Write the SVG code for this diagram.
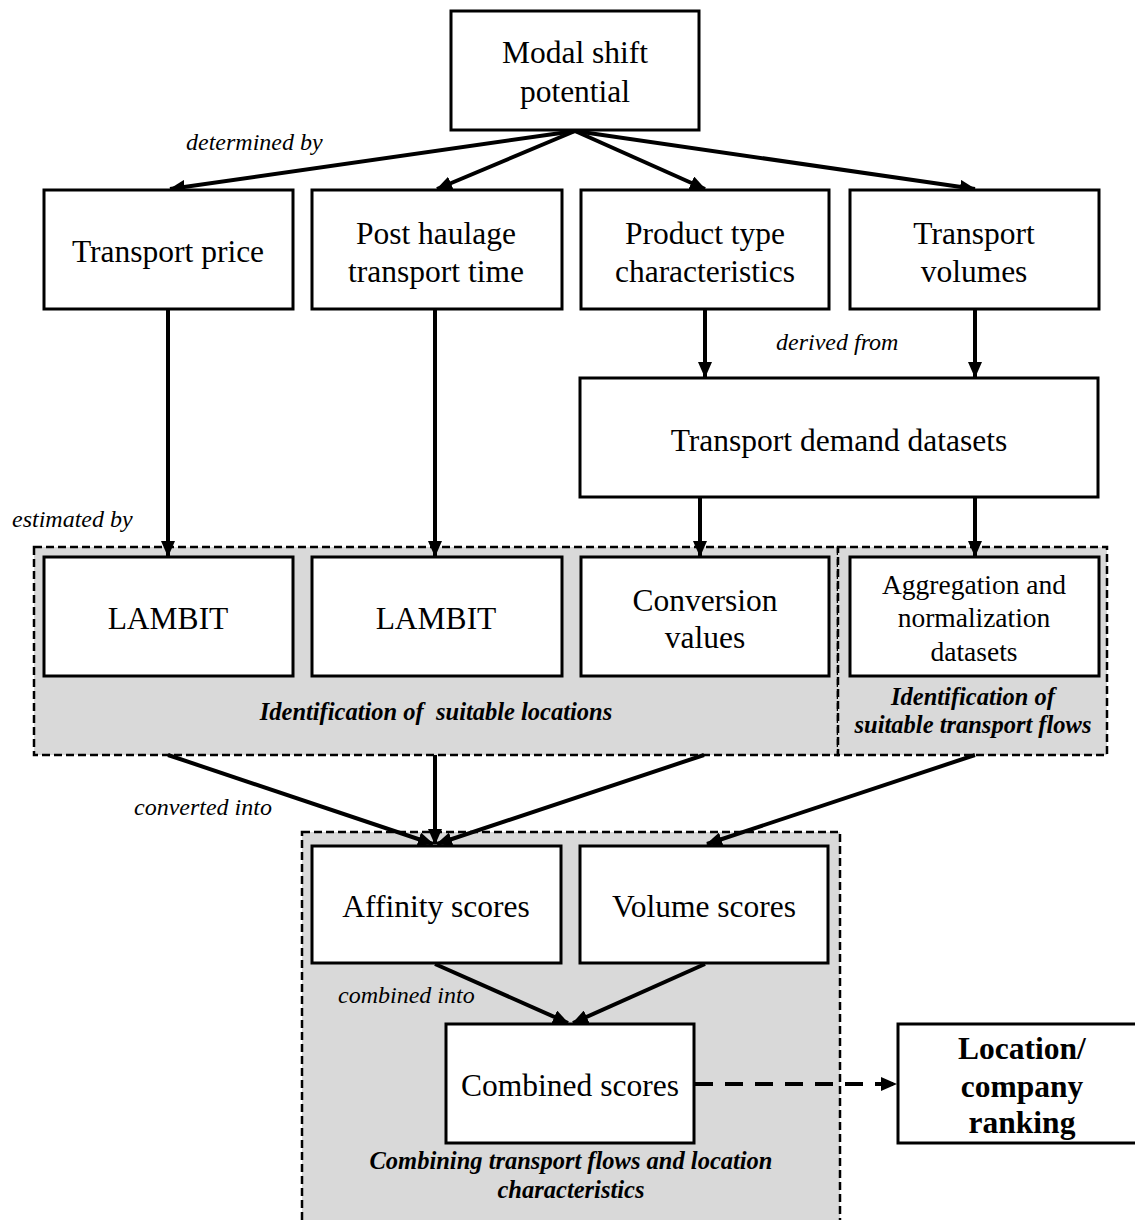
<svg xmlns="http://www.w3.org/2000/svg" width="1135" height="1220" viewBox="0 0 1135 1220">
<style>
.box{fill:#fff;stroke:#000;stroke-width:3}
.grp{fill:#d9d9d9;stroke:#000;stroke-width:2.5;stroke-dasharray:8 4}
.t{font-family:"Liberation Serif","Times New Roman",serif;font-size:31.5px;text-anchor:middle;fill:#000}
.s{font-size:27.5px}
.b{font-weight:bold}
.lab{font-family:"Liberation Serif","Times New Roman",serif;font-size:24px;font-style:italic;fill:#000}
.gl{font-family:"Liberation Serif","Times New Roman",serif;font-size:24.5px;font-style:italic;font-weight:bold;text-anchor:middle;fill:#000;white-space:pre}
.c{stroke:#000;stroke-width:4;fill:none;marker-end:url(#ah)}
</style>
<defs>
<marker id="ah" markerWidth="16" markerHeight="14" refX="15" refY="7" orient="auto" markerUnits="userSpaceOnUse">
<path d="M0,0 L16,7 L0,14 z" fill="#000"/>
</marker>
</defs>
<rect width="1135" height="1220" fill="#fff"/>
<g id="groups">
<rect id="grp-locations" class="grp" x="34" y="547" width="804" height="208"/>
<rect id="grp-flows" class="grp" x="838" y="547" width="269" height="208"/>
<rect id="grp-combining" class="grp" x="302" y="832" width="538" height="400"/>
<text class="gl" x="436" y="720" xml:space="preserve">Identification of  suitable locations</text>
<text class="gl" x="973" y="705">Identification of</text>
<text class="gl" x="973" y="733">suitable transport flows</text>
<text class="gl" x="571" y="1169">Combining transport flows and location</text>
<text class="gl" x="571" y="1198">characteristics</text>
</g>
<g id="connectors">
<line class="c" x1="575" y1="131" x2="170" y2="189"/>
<line class="c" x1="575" y1="131" x2="437" y2="189"/>
<line class="c" x1="575" y1="131" x2="705" y2="189"/>
<line class="c" x1="575" y1="131" x2="975" y2="189"/>
<line class="c" x1="168" y1="310" x2="168" y2="556"/>
<line class="c" x1="435" y1="310" x2="435" y2="556"/>
<line class="c" x1="705" y1="310" x2="705" y2="377"/>
<line class="c" x1="975" y1="310" x2="975" y2="377"/>
<line class="c" x1="700" y1="498" x2="700" y2="556"/>
<line class="c" x1="975" y1="498" x2="975" y2="556"/>
<line class="c" x1="168" y1="755" x2="433" y2="844"/>
<line class="c" x1="435" y1="755" x2="435" y2="844"/>
<line class="c" x1="704" y1="755" x2="437" y2="844"/>
<line class="c" x1="975" y1="755" x2="707" y2="844"/>
<line class="c" x1="435" y1="964" x2="568" y2="1023"/>
<line class="c" x1="705" y1="964" x2="573" y2="1023"/>
<line class="c" x1="695" y1="1084" x2="896" y2="1084" stroke-dasharray="18 12"/>
<text class="lab" x="186" y="150">determined by</text>
<text class="lab" x="776" y="350">derived from</text>
<text class="lab" x="12" y="527">estimated by</text>
<text class="lab" x="134" y="815">converted into</text>
<text class="lab" x="338" y="1003">combined into</text>
</g>
<g id="n-modal"><rect class="box" x="451" y="11" width="248" height="119"/><text class="t" x="575" y="63">Modal shift</text><text class="t" x="575" y="102">potential</text></g>
<g id="n-price"><rect class="box" x="44" y="190" width="249" height="119"/><text class="t" x="168" y="262">Transport price</text></g>
<g id="n-haulage"><rect class="box" x="312" y="190" width="250" height="119"/><text class="t" x="436" y="244">Post haulage</text><text class="t" x="436" y="282">transport time</text></g>
<g id="n-product"><rect class="box" x="581" y="190" width="248" height="119"/><text class="t" x="705" y="244">Product type</text><text class="t" x="705" y="282">characteristics</text></g>
<g id="n-volumes"><rect class="box" x="850" y="190" width="249" height="119"/><text class="t" x="974" y="244">Transport</text><text class="t" x="974" y="282">volumes</text></g>
<g id="n-demand"><rect class="box" x="580" y="378" width="518" height="119"/><text class="t" x="839" y="451">Transport demand datasets</text></g>
<g id="n-lambit1"><rect class="box" x="44" y="557" width="249" height="119"/><text class="t" x="168" y="629">LAMBIT</text></g>
<g id="n-lambit2"><rect class="box" x="312" y="557" width="250" height="119"/><text class="t" x="436" y="629">LAMBIT</text></g>
<g id="n-conversion"><rect class="box" x="581" y="557" width="248" height="119"/><text class="t" x="705" y="611">Conversion</text><text class="t" x="705" y="648">values</text></g>
<g id="n-aggregation"><rect class="box" x="850" y="557" width="249" height="119"/><text class="t s" x="974" y="594">Aggregation and</text><text class="t s" x="974" y="627">normalization</text><text class="t s" x="974" y="661">datasets</text></g>
<g id="n-affinity"><rect class="box" x="312" y="846" width="249" height="117"/><text class="t" x="436" y="917">Affinity scores</text></g>
<g id="n-volscores"><rect class="box" x="580" y="846" width="248" height="117"/><text class="t" x="704" y="917">Volume scores</text></g>
<g id="n-combined"><rect class="box" x="446" y="1024" width="248" height="119"/><text class="t" x="570" y="1096">Combined scores</text></g>
<g id="n-ranking"><rect class="box" x="898" y="1024" width="250" height="119"/><text class="t b" x="1022" y="1059">Location/</text><text class="t b" x="1022" y="1097">company</text><text class="t b" x="1022" y="1133">ranking</text></g>
</svg>
